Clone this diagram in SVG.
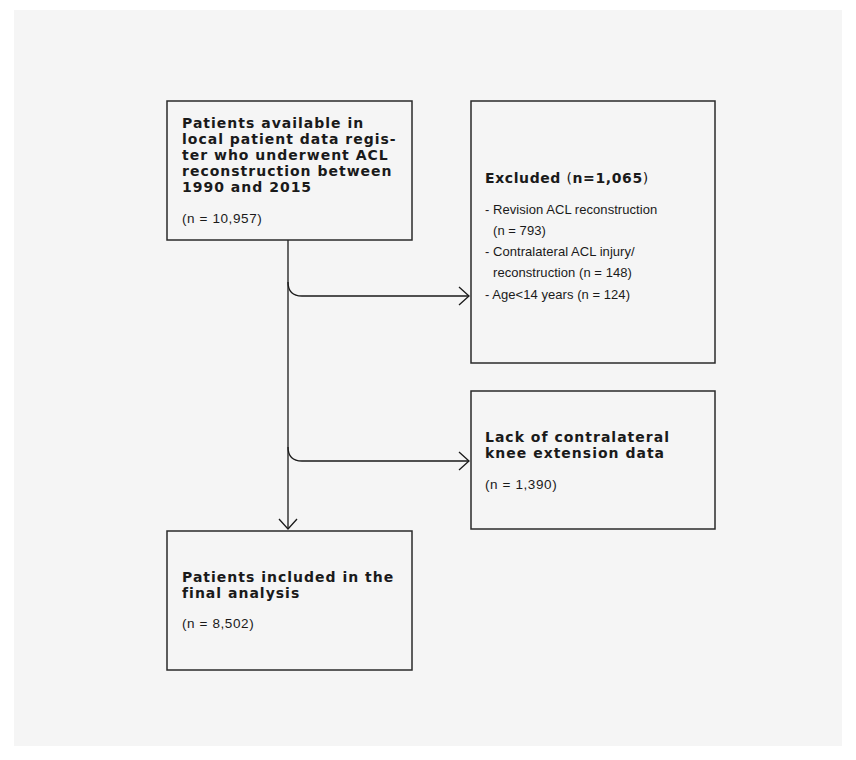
<svg xmlns="http://www.w3.org/2000/svg" width="856" height="760" viewBox="0 0 856 760">
<style>
.box{fill:none;stroke:#2a2a2a;stroke-width:1.5}
.t{font-family:"DejaVu Sans","Liberation Sans",Arial,sans-serif;font-weight:bold;font-size:14px;fill:#1a1a1a;letter-spacing:1px}
.n{font-family:"Liberation Sans",Arial,sans-serif;font-size:13.5px;fill:#1a1a1a;letter-spacing:0.6px}
.s{font-family:"Liberation Sans",Arial,sans-serif;font-size:13px;fill:#1a1a1a;letter-spacing:0.05px}
.c{fill:none;stroke:#1a1a1a;stroke-width:1.3}
</style>
<defs>
<marker id="ah" viewBox="0 0 12 20" refX="11" refY="10" markerWidth="12" markerHeight="20" markerUnits="userSpaceOnUse" orient="auto">
<path d="M1,1 L11,10 L1,19" fill="none" stroke="#1a1a1a" stroke-width="1.3"/>
</marker>
</defs>
<rect x="0" y="0" width="856" height="760" fill="#ffffff"/>
<rect x="14" y="10" width="828" height="736" fill="#f5f5f5"/>
<g id="connectors">
<path class="c" d="M288,240 V529" marker-end="url(#ah)"/>
<path class="c" d="M288,282 Q288,296 302,296 H469" marker-end="url(#ah)"/>
<path class="c" d="M288,447 Q288,461 302,461 H469" marker-end="url(#ah)"/>
</g>
<g id="node-available">
<rect class="box" x="167" y="101" width="245" height="139"/>
<text class="t" x="182" y="128">Patients available in</text>
<text class="t" x="182" y="144">local patient data regis-</text>
<text class="t" x="182" y="160">ter who underwent ACL</text>
<text class="t" x="182" y="176">reconstruction between</text>
<text class="t" x="182" y="192">1990 and 2015</text>
<text class="n" x="182" y="223">(n = 10,957)</text>
</g>
<g id="node-excluded">
<rect class="box" x="471" y="101" width="244" height="262"/>
<text class="t" x="485" y="183" style="letter-spacing:0.6px">Excluded <tspan font-weight="normal">(</tspan>n=1,065<tspan font-weight="normal">)</tspan></text>
<text class="s" x="485" y="214">- Revision ACL reconstruction</text>
<text class="s" x="493" y="235">(n = 793)</text>
<text class="s" x="485" y="256">- Contralateral ACL injury/</text>
<text class="s" x="493" y="277">reconstruction (n = 148)</text>
<text class="s" x="485" y="299">- Age&lt;14 years (n = 124)</text>
</g>
<g id="node-lack">
<rect class="box" x="471" y="391" width="244" height="138"/>
<text class="t" x="485" y="442">Lack of contralateral</text>
<text class="t" x="485" y="458">knee extension data</text>
<text class="n" x="485" y="489">(n = 1,390)</text>
</g>
<g id="node-included">
<rect class="box" x="167" y="531" width="245" height="139"/>
<text class="t" x="182" y="582">Patients included in the</text>
<text class="t" x="182" y="598">final analysis</text>
<text class="n" x="182" y="628">(n = 8,502)</text>
</g>
</svg>
